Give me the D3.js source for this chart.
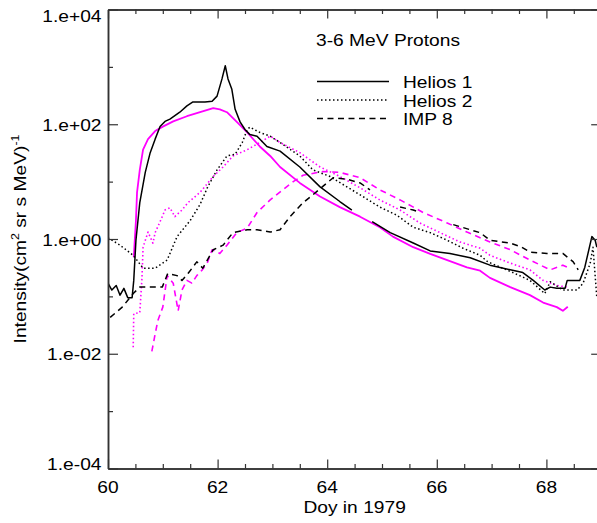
<!DOCTYPE html>
<html>
<head>
<meta charset="UTF-8">
<script src="https://cdn.jsdelivr.net/npm/d3@7"></script>
<style>
body { margin: 0; background: #fff; }
text { font-family: "Liberation Sans", Arial, Helvetica, sans-serif; font-size: 17px; fill: #000; }
</style>
</head>
<body>
<svg id="chart" width="597" height="523"></svg>
<script>
// axis ticks
const xTicks = [60, 62, 64, 66, 68];
const xMinorTicks = [60.5, 61, 61.5, 62.5, 63, 63.5, 64.5, 65, 65.5, 66.5, 67, 67.5, 68.5];
const yTicks = [1e-4, 1e-2, 1, 1e2, 1e4];
const yTickLabels = ["1.e-04", "1.e-02", "1.e+00", "1.e+02", "1.e+04"];
const yMinorTicks = [1e-3, 1e-1, 1e1, 1e3];

// observed intensities [day, cm^-2 sr^-1 s^-1 MeV^-1], null = data gap
const helios1 = [[60.00,0.17],[60.07,0.129],[60.15,0.155],[60.22,0.105],[60.29,0.138],[60.36,0.095],[60.44,0.095],
  [60.47,0.19],[60.51,0.95],[60.58,4.3],[60.68,14.5],[60.77,32],[60.86,55],[60.95,91],[61.04,112],[61.13,123],
  [61.31,162],[61.44,209],[61.55,245],[61.77,245],[61.90,251],[61.99,309],[62.08,617],[62.14,1047],[62.19,617],
  [62.26,407],[62.32,182],[62.41,110],[62.50,81],[62.59,66],[62.72,62],[62.90,41],[63.14,34],[63.50,18],[63.87,8.1],
  [64.23,4.5],[64.45,3.2],[64.6,null],[64.82,2.0],[65.15,1.29],[65.57,0.85],[65.88,0.62],[66.24,0.56],[66.61,0.47],
  [66.97,0.35],[67.34,0.29],[67.57,0.26],[67.76,0.19],[67.97,0.129],[68.07,0.145],[68.19,0.138],[68.34,0.138],
  [68.38,0.19],[68.61,0.19],[68.70,0.32],[68.83,1.1],[68.89,0.95],[68.92,0.72]];
const helios2 = [[60.00,1.05],[60.22,0.78],[60.46,0.52],[60.64,0.31],[60.86,0.31],[61.08,0.43],[61.26,1.1],[61.50,2.1],
  [61.68,4.0],[61.82,8.1],[61.99,16],[62.17,28],[62.32,30],[62.45,48],[62.54,81],[62.59,89],[62.77,72],[62.96,62],
  [63.14,48],[63.50,28],[63.74,16],[64.05,12.3],[64.36,8.1],[64.65,5.5],[64.96,3.6],[65.27,2.6],[65.57,1.6],[65.88,1.29],
  [66.19,0.95],[66.48,0.69],[66.79,0.52],[66.93,0.40],[67.39,0.26],[67.70,0.19],[67.97,0.112],[68.07,0.18],[68.30,0.129],
  [68.56,0.129],[68.67,0.17],[68.80,0.38],[68.85,0.72],[68.92,0.095]];
const imp8 = [[60.04,0.043],[60.26,0.065],[60.46,0.112],[60.58,0.145],[60.73,0.145],[60.99,0.145],[61.09,0.25],[61.26,0.23],
  [61.35,0.19],[61.46,0.25],[61.62,0.40],[61.73,0.31],[61.92,0.65],[62.10,0.78],[62.28,1.29],[62.54,1.45],[62.72,1.45],
  [62.96,1.32],[63.14,1.45],[63.32,2.45],[63.56,4.3],[63.74,5.9],[63.91,8.1],[64.11,11.7],[64.36,11],[64.60,9.5],[64.78,7.2],
  [65.0,null],[65.33,3.6],[65.57,3.2],[65.69,2.9],[66.0,null],[66.30,1.78],[66.61,1.45],[66.79,1.29],[66.97,0.95],[67.34,0.85],
  [67.55,0.72],[67.70,0.59],[68.01,0.56],[68.30,0.56],[68.49,0.40],[68.58,0.29]];

// model intensities
const modelH1 = [[60.47,0.48],[60.51,2.1],[60.53,6.5],[60.58,16],[60.64,36],[60.73,55],[60.86,76],[61.00,91],[61.19,112],
  [61.44,138],[61.68,162],[61.92,191],[62.04,182],[62.17,162],[62.35,110],[62.54,72],[62.77,41],[62.96,28],[63.14,18],
  [63.50,9.5],[63.87,5.5],[64.23,3.6],[64.60,2.45],[64.96,1.6],[65.20,1.1],[65.57,0.72],[65.88,0.55],[66.19,0.43],[66.55,0.32],
  [66.79,0.28],[66.97,0.21],[67.34,0.145],[67.70,0.105],[67.94,0.078],[68.19,0.065],[68.30,0.056],[68.39,0.066]];
const modelH2 = [[60.46,0.013],[60.47,0.050],[60.58,0.052],[60.62,0.21],[60.64,0.72],[60.73,1.32],[60.82,0.85],[60.86,1.29],
  [60.95,2.0],[61.04,3.2],[61.13,3.5],[61.22,2.45],[61.35,3.2],[61.46,4.3],[61.68,6.5],[61.92,12.3],[62.10,18],[62.28,28],
  [62.54,36],[62.77,48],[62.96,62],[63.14,48],[63.50,32],[63.87,18],[64.23,12.3],[64.60,7.8],[64.96,4.8],[65.33,3.2],
  [65.69,1.9],[66.06,1.29],[66.42,0.89],[66.79,0.69],[66.97,0.52],[67.34,0.38],[67.70,0.29],[67.94,0.19],[68.19,0.155],[68.38,0.145]];
const modelImp8 = [[60.80,0.011],[60.86,0.022],[60.91,0.038],[61.00,0.065],[61.08,0.23],[61.19,0.17],[61.28,0.056],[61.35,0.129],
  [61.44,0.19],[61.53,0.17],[61.62,0.23],[61.72,0.29],[61.81,0.38],[61.90,0.65],[62.04,0.56],[62.17,0.78],[62.35,1.29],
  [62.54,1.55],[62.72,2.9],[62.96,4.8],[63.19,7.2],[63.38,10],[63.56,12.9],[63.92,15],[64.23,14.5],[64.60,11.7],[64.96,7.2],
  [65.33,4.8],[65.75,2.9],[66.19,1.9],[66.55,1.32],[66.97,0.89],[67.34,0.65],[67.70,0.43],[68.07,0.29],[68.30,0.35],[68.39,0.32]];

const legendNames = ["Helios 1", "Helios 2", "IMP 8"];

const svg = d3.select("#chart");
const pLeft = 108, pRight = 601.2, pTop = 9.5, pBottom = 468.5;
const SX = 1.13; // glyphs in the original are a bit wider than Liberation Sans

const x = d3.scaleLinear().domain([60, 69]).range([pLeft, pRight]);
const y = d3.scaleLog().domain([1e-4, 1e4]).range([pBottom, pTop]);

const dotted = "1.5,2.5", dashed = "6,4.5";
const series = [
  { data: modelH1, color: "#ff00ff", dash: null, w: 1.8 },
  { data: modelH2, color: "#ff00ff", dash: dotted, w: 1.6 },
  { data: modelImp8, color: "#ff00ff", dash: dashed, w: 1.6 },
  { data: helios1, color: "#000", dash: null, w: 1.5 },
  { data: helios2, color: "#000", dash: dotted, w: 1.5 },
  { data: imp8, color: "#000", dash: dashed, w: 1.5 }
];

svg.append("clipPath").attr("id", "plot")
  .append("rect").attr("x", pLeft).attr("y", pTop).attr("width", pRight - pLeft).attr("height", pBottom - pTop);

const line = d3.line()
  .defined(d => d[1] != null)
  .x(d => x(d[0]))
  .y(d => y(d[1]));

const lines = svg.append("g").attr("clip-path", "url(#plot)");
series.forEach(s => {
  lines.append("path")
    .datum(s.data)
    .attr("fill", "none")
    .attr("stroke", s.color)
    .attr("stroke-width", s.w)
    .attr("stroke-dasharray", s.dash)
    .attr("stroke-linejoin", "round")
    .attr("d", line);
});

// axes, ticks pointing inwards
function axis(gen, tx, ty) {
  const g = svg.append("g").attr("transform", `translate(${tx},${ty})`).call(gen);
  g.selectAll("path").attr("stroke", "#333").attr("stroke-width", 1.5);
  g.selectAll("line").attr("stroke", "#333").attr("stroke-width", 1.2);
  return g;
}
axis(d3.axisBottom(x).tickValues(xTicks).tickSize(-9).tickSizeOuter(0).tickFormat(""), 0, pBottom);
axis(d3.axisBottom(x).tickValues(xMinorTicks).tickSize(-4.5).tickSizeOuter(0).tickFormat(""), 0, pBottom);
axis(d3.axisTop(x).tickValues(xTicks).tickSize(-9).tickSizeOuter(0).tickFormat(""), 0, pTop);
axis(d3.axisTop(x).tickValues(xMinorTicks).tickSize(-4.5).tickSizeOuter(0).tickFormat(""), 0, pTop);
axis(d3.axisLeft(y).tickValues(yTicks).tickSize(-10).tickSizeOuter(0).tickFormat(""), pLeft, 0);
axis(d3.axisLeft(y).tickValues(yMinorTicks).tickSize(-5).tickSizeOuter(0).tickFormat(""), pLeft, 0);
axis(d3.axisRight(y).tickValues(yTicks).tickSize(-10).tickSizeOuter(0).tickFormat(""), pRight, 0);

function label(txt, tx, ty, anchor, rot) {
  return svg.append("text")
    .attr("transform", `translate(${tx},${ty})` + (rot ? ` rotate(${rot})` : "") + ` scale(${SX},1)`)
    .attr("text-anchor", anchor || "start")
    .text(txt);
}

xTicks.forEach(v => label(String(v), x(v), 493, "middle"));
yTicks.forEach((v, i) => {
  const ty = Math.min(Math.max(y(v) + 6.5, pTop + 12.5), pBottom + 1.5);
  label(yTickLabels[i], 101.5, ty, "end");
});

label("Doy in 1979", (pLeft + pRight) / 2, 513, "middle");

const yl = svg.append("text")
  .attr("transform", `translate(25.5,${(pTop + pBottom) / 2}) rotate(-90) scale(${SX},1)`)
  .attr("text-anchor", "middle");
yl.append("tspan").text("Intensity(cm");
yl.append("tspan").attr("font-size", 11).attr("dy", -7).text("2");
yl.append("tspan").attr("dy", 7).text(" sr s MeV)");
yl.append("tspan").attr("font-size", 11).attr("dy", -7).text("-1");

// legend
label("3-6 MeV Protons", 316, 46);
const legendStyles = [series[3], series[4], series[5]];
legendNames.forEach((name, i) => {
  const ly = 81.5 + i * 18.5;
  svg.append("line")
    .attr("x1", 317).attr("x2", 389).attr("y1", ly).attr("y2", ly)
    .attr("stroke", "#000").attr("stroke-width", 1.5)
    .attr("stroke-dasharray", legendStyles[i].dash);
  label(name, 403, ly + 6.5);
});
</script>
</body>
</html>
